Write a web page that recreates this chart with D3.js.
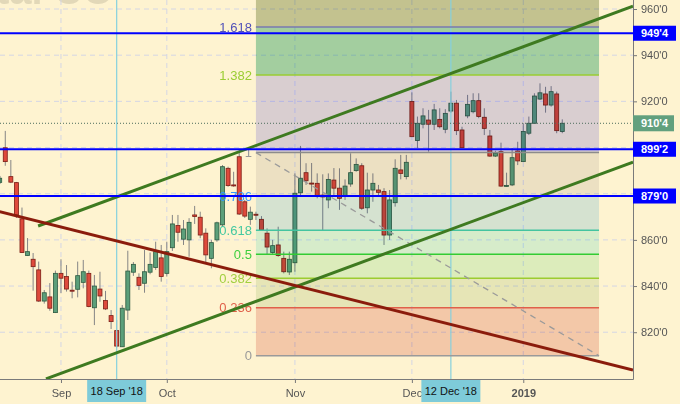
<!DOCTYPE html>
<html><head><meta charset="utf-8">
<script src="https://cdn.jsdelivr.net/npm/d3@7/dist/d3.min.js"></script>
<style>
html,body{margin:0;padding:0;background:#fef3d0;}
svg{display:block;font-family:"Liberation Sans",Arial,sans-serif;}
</style></head><body>
<svg id="c" width="680" height="404"></svg>
<script>
// ---------- data ----------
const dates = [
"2018-08-17","2018-08-20","2018-08-21","2018-08-22","2018-08-23","2018-08-24","2018-08-27","2018-08-28","2018-08-29","2018-08-30","2018-08-31",
"2018-09-04","2018-09-05","2018-09-06","2018-09-07","2018-09-10","2018-09-11","2018-09-12","2018-09-13","2018-09-14","2018-09-17","2018-09-18","2018-09-19","2018-09-20","2018-09-21","2018-09-24","2018-09-25","2018-09-26","2018-09-27","2018-09-28",
"2018-10-01","2018-10-02","2018-10-03","2018-10-04","2018-10-05","2018-10-08","2018-10-09","2018-10-10","2018-10-11","2018-10-12","2018-10-15","2018-10-16","2018-10-17","2018-10-18","2018-10-19","2018-10-22","2018-10-23","2018-10-24","2018-10-25","2018-10-26","2018-10-29","2018-10-30","2018-10-31",
"2018-11-01","2018-11-02","2018-11-05","2018-11-06","2018-11-07","2018-11-08","2018-11-09","2018-11-12","2018-11-13","2018-11-14","2018-11-15","2018-11-16","2018-11-19","2018-11-20","2018-11-21","2018-11-23","2018-11-26","2018-11-27","2018-11-28","2018-11-29","2018-11-30",
"2018-12-03","2018-12-04","2018-12-05","2018-12-06","2018-12-07","2018-12-10","2018-12-11","2018-12-12","2018-12-13","2018-12-14","2018-12-17","2018-12-18","2018-12-19","2018-12-20","2018-12-21","2018-12-24","2018-12-26","2018-12-27","2018-12-28","2018-12-31",
"2019-01-02","2019-01-03","2019-01-04","2019-01-07","2019-01-08","2019-01-09","2019-01-10","2019-01-11"];
const opens = [884.9,899.9,887.4,884.8,869.1,853.2,851.6,847.0,833.5,835.3,828.5,
845.5,844.1,838.2,838.6,841.6,845.5,830.6,838.7,833.7,827.2,820.7,813.7,829.6,846.0,843.8,841.2,846.0,848.0,852.2,
845.5,856.6,866.2,860.3,860.0,870.8,869.8,862.9,852.0,860.0,866.5,891.0,883.8,896.0,876.5,868.9,871.1,868.9,862.9,854.5,857.8,852.0,846.1,
850.1,880.4,889.1,884.6,884.5,879.4,877.3,885.9,882.4,879.1,884.2,890.0,892.1,873.9,881.6,881.6,880.9,862.1,876.1,890.3,887.4,
919.9,903.0,910.1,911.9,910.1,912.2,907.9,915.8,919.2,907.6,913.7,915.5,920.3,913.1,905.0,896.3,898.2,883.3,883.8,898.5,
893.9,906.2,910.5,921.0,923.2,918.4,923.2,906.9];
const highs = [887.7,907.2,894.6,885.1,874.0,860.8,854.3,850.6,838.3,841.3,846.7,
851.6,849.1,841.9,850.6,851.3,846.7,844.8,846.2,837.9,829.6,825.3,831.8,855.3,850.4,845.5,855.6,854.5,859.2,857.8,
859.2,870.8,870.8,868.6,869.4,874.7,872.2,865.0,860.0,867.9,892.4,891.7,889.5,898.2,877.3,874.4,872.2,870.3,865.0,860.0,865.7,854.9,854.9,
888.8,900.7,893.2,893.3,888.8,888.4,888.8,891.1,891.0,886.2,897.5,895.3,893.2,889.1,888.8,883.8,882.4,881.6,894.9,896.8,896.8,
923.9,913.4,917.0,916.3,918.9,917.0,916.6,924.2,920.6,909.0,922.8,923.5,923.5,917.0,907.6,898.6,902.1,889.1,899.7,902.5,
910.5,913.4,923.5,927.8,926.3,926.6,924.2,912.2];
const lows = [884.2,892.1,884.6,869.5,854.3,853.0,838.0,833.1,832.4,829.3,828.3,
836.9,837.6,834.7,835.1,839.0,830.8,823.1,833.2,829.6,821.4,813.3,813.6,825.3,844.4,838.3,837.1,845.1,847.0,841.9,
844.1,855.2,859.2,857.8,852.7,866.9,860.7,849.9,847.7,859.2,865.7,883.0,883.0,870.8,869.5,866.5,868.6,864.0,853.5,853.5,852.7,845.5,844.8,
846.2,878.6,883.8,880.9,878.0,863.9,873.7,878.7,873.0,877.3,883.0,889.5,873.0,871.5,876.5,879.4,857.8,860.0,874.4,886.2,886.2,
904.6,899.7,908.3,898.2,907.6,908.3,906.2,915.0,905.4,899.8,912.7,914.8,912.7,905.4,896.0,895.9,883.0,883.0,883.3,892.4,
893.9,905.4,910.2,920.6,915.1,917.7,906.2,906.2];
const closes = [886.7,893.9,885.0,870.8,854.5,854.9,848.4,833.5,837.1,830.4,845.5,
843.4,838.7,837.9,844.5,846.2,831.1,840.0,835.7,830.1,824.6,814.0,830.4,846.5,849.4,840.3,846.2,849.4,854.9,844.1,
854.9,866.9,863.3,864.7,867.6,870.1,862.1,853.5,858.8,867.4,891.7,883.5,883.5,871.2,870.3,872.0,870.8,864.3,856.9,857.5,853.2,846.2,851.6,
880.2,886.7,885.6,884.2,879.1,878.6,886.2,882.4,878.0,883.3,889.1,892.7,873.7,881.6,884.5,880.6,862.1,877.3,891.0,888.8,893.6,
904.7,910.5,913.7,910.1,916.3,909.0,914.8,919.2,907.3,899.9,918.7,920.3,913.4,908.3,896.3,897.5,883.3,883.6,895.6,894.2,
906.9,910.5,922.3,923.7,918.4,924.2,907.3,910.5];

const yTickValues = [960, 940, 920, 860, 840, 820];
const yTickLabels = ["960'0", "940'0", "920'0", "860'0", "840'0", "820'0"];
const gridValues = [960, 940, 920, 900, 880, 860, 840, 820];
const monthStarts = ["2018-09-04", "2018-10-01", "2018-11-01", "2018-12-03", "2019-01-02"];
const monthLabels = ["Sep", "Oct", "Nov", "Dec", "2019"];
const markedDates = ["2018-09-18", "2018-12-12"];
const markedLabels = ["18 Sep '18", "12 Dec '18"];
const hLevels = [949.5, 899.25, 879.0];
const hLabels = ["949'4", "899'2", "879'0"];
const lastPrice = 910.5;
const lastLabel = "910'4";
const fibLevels = [0, 0.236, 0.382, 0.5, 0.618, 0.786, 1, 1.382, 1.618];
const fibLabels = ["0", "0.236", "0.382", "0.5", "0.618", "0.786", "1", "1.382", "1.618"];
const fibLow = 809.8, fibHigh = 897.8;
const fibStartIdx = 46.0, fibEndIdx = 107.6;
const upperChannel = [[6.9, 866.0], [113.7, 961.2]];
const lowerChannel = [[8.3, 799.8], [113.7, 893.7]];
const trendLine = [[0, 872.2], [113.7, 803.6]];

// ---------- styles ----------
const fibLineColors = ["#9a9a9a", "#e0604a", "#9ccc30", "#33cc33", "#44c4a0", "#3d8fe0", "#8c8c8c", "#9acd32", "#7878b0"];
const fibTextColors = ["#9a9a9a", "#e0604a", "#a2d040", "#3fcf3f", "#44c8a0", "#3399ff", "#9a9a9a", "#9acd32", "#5050b8"];
const fibBandColors = ["#f4d2ce", "#e7f1df", "#ddf8e5", "#d7f8f8", "#d6eeff", "#edebee", "#dad9ff", "#a4d9c3", "#c4ccaf"];

// ---------- drawing ----------
const plotR = 633, plotB = 379;
const svg = d3.select("#c");
const x = d3.scaleLinear().domain([0, dates.length - 1]).range([-0.3, 562.27]);
const y = d3.scaleLinear().domain([800, 960]).range([378.4, 9]);
const idx = new Map(dates.map((d, i) => [d, i]));
const line = d3.line().x(d => x(d[0])).y(d => y(d[1]));

svg.append("rect").attr("width", 680).attr("height", 404).attr("fill", "#fef3d0");
svg.append("defs").append("clipPath").attr("id", "clip")
  .append("rect").attr("x", 0).attr("y", 0).attr("width", plotR).attr("height", plotB);
const under = svg.append("g").attr("clip-path", "url(#clip)");

// watermark (mostly cut off at top, as in the source)
under.append("text").attr("x", -4).attr("y", 4).attr("font-size", 40).attr("font-weight", "bold")
  .attr("fill", "#e2d8b8").text("tal CO");

// grid
under.selectAll("line.hg").data(gridValues).join("line").attr("class", "hg")
  .attr("x1", 0).attr("x2", plotR).attr("y1", d => y(d)).attr("y2", d => y(d))
  .attr("stroke", "#d4d6e4").attr("stroke-width", 1).attr("stroke-dasharray", "5,4");
under.selectAll("line.vg").data(monthStarts).join("line").attr("class", "vg")
  .attr("x1", d => x(idx.get(d))).attr("x2", d => x(idx.get(d))).attr("y1", 0).attr("y2", plotB)
  .attr("stroke", "#d4d6e4").attr("stroke-width", 1).attr("stroke-dasharray", "5,4");

// candles (drawn directly in root so the multiply bands can blend over them)
const candles = dates.map((d, i) => ({ i, o: opens[i], h: highs[i], l: lows[i], c: closes[i] }))
  .filter(d => x(d.i) > -3);
svg.selectAll("line.wk").data(candles).join("line").attr("class", "wk")
  .attr("x1", d => Math.max(0, x(d.i))).attr("x2", d => Math.max(0, x(d.i)))
  .attr("y1", d => y(d.h)).attr("y2", d => y(d.l))
  .attr("stroke", "#858585").attr("stroke-width", 1);
svg.selectAll("rect.bd").data(candles).join("rect").attr("class", "bd")
  .attr("x", d => Math.max(0, x(d.i) - 2)).attr("width", d => x(d.i) - 2 < 0 ? x(d.i) + 2 : 4)
  .attr("y", d => y(Math.max(d.o, d.c)))
  .attr("height", d => Math.max(1, Math.abs(y(d.o) - y(d.c))))
  .attr("fill", d => d.c >= d.o ? "#5c9f7a" : "#de4a3c")
  .attr("stroke", d => d.c >= d.o ? "#2d5a41" : "#7c1d15").attr("stroke-width", 0.8);

// fib bands (multiply overlay, in root stacking context)
const fibPrice = f => fibLow + (fibHigh - fibLow) * f;
const fx0 = x(fibStartIdx), fx1 = x(fibEndIdx);
const bands = fibLevels.map((f, k) => ({
  top: k < fibLevels.length - 1 ? y(fibPrice(fibLevels[k + 1])) : 0,
  bot: y(fibPrice(f)), color: fibBandColors[k]
}));
svg.selectAll("rect.band").data(bands).join("rect").attr("class", "band")
  .attr("x", fx0).attr("width", fx1 - fx0)
  .attr("y", d => d.top).attr("height", d => d.bot - d.top)
  .attr("fill", d => d.color).style("mix-blend-mode", "multiply");

const plot = svg.append("g").attr("clip-path", "url(#clip)");

// marked vertical lines
plot.selectAll("line.mk").data(markedDates).join("line").attr("class", "mk")
  .attr("x1", d => x(idx.get(d))).attr("x2", d => x(idx.get(d))).attr("y1", 0).attr("y2", plotB)
  .attr("stroke", "#86d0de").attr("stroke-width", 1.2);

// fib level lines
plot.selectAll("line.fl").data(fibLevels).join("line").attr("class", "fl")
  .attr("x1", fx0).attr("x2", fx1).attr("y1", d => y(fibPrice(d))).attr("y2", d => y(fibPrice(d)))
  .attr("stroke", (d, k) => fibLineColors[k]).attr("stroke-width", 1.5);
plot.selectAll("text.ft").data(fibLevels).join("text").attr("class", "ft")
  .attr("x", fx0 - 4).attr("y", d => y(fibPrice(d))).attr("dy", "0.35em")
  .attr("text-anchor", "end").attr("font-size", 13)
  .attr("fill", (d, k) => fibTextColors[k]).text((d, k) => fibLabels[k]);

// fib diagonal
plot.append("path").attr("d", line([[fibStartIdx, fibHigh], [fibEndIdx, fibLow]]))
  .attr("fill", "none").attr("stroke", "#9a9a9a").attr("stroke-width", 1.3).attr("stroke-dasharray", "6,5");

// channel and trend lines
plot.append("path").attr("d", line(upperChannel)).attr("fill", "none").attr("stroke", "#3e7a20").attr("stroke-width", 3);
plot.append("path").attr("d", line(lowerChannel)).attr("fill", "none").attr("stroke", "#3e7a20").attr("stroke-width", 3);
plot.append("path").attr("d", line(trendLine)).attr("fill", "none").attr("stroke", "#8b1c0c").attr("stroke-width", 3);

// horizontal blue levels
plot.selectAll("line.hl").data(hLevels).join("line").attr("class", "hl")
  .attr("x1", 0).attr("x2", plotR).attr("y1", d => y(d)).attr("y2", d => y(d))
  .attr("stroke", "#0000ff").attr("stroke-width", 2);

// last price dotted line
plot.append("line").attr("x1", 0).attr("x2", plotR).attr("y1", y(lastPrice)).attr("y2", y(lastPrice))
  .attr("stroke", "#4d6d5c").attr("stroke-width", 1).attr("stroke-dasharray", "1,2");

// axes
const yAxis = d3.axisRight(y).tickValues(yTickValues).tickFormat((d, i) => yTickLabels[i]).tickSize(4).tickPadding(4);
const ya = svg.append("g").attr("transform", `translate(${plotR},0)`).call(yAxis);
ya.select(".domain").remove();
ya.selectAll("line").attr("stroke", "#777");
ya.selectAll("text").attr("font-size", 11).attr("fill", "#555").attr("font-family", "Liberation Sans, Arial, sans-serif");

const xAxis = d3.axisBottom(x).tickValues(monthStarts.map(d => idx.get(d)))
  .tickFormat((d, i) => monthLabels[i]).tickSize(4).tickPadding(6);
const xa = svg.append("g").attr("transform", `translate(0,${plotB})`).call(xAxis);
xa.select(".domain").remove();
xa.selectAll("line").attr("stroke", "#777");
xa.selectAll("text").attr("font-size", 11).attr("fill", "#555").attr("font-family", "Liberation Sans, Arial, sans-serif")
  .attr("font-weight", (d, i) => monthLabels[i] === "2019" ? "bold" : "normal");

svg.append("line").attr("x1", plotR + 0.5).attr("x2", plotR + 0.5).attr("y1", 0).attr("y2", plotB + 0.5)
  .attr("stroke", "#7a7a7a").attr("stroke-width", 1);
svg.append("line").attr("x1", 0).attr("x2", plotR + 0.5).attr("y1", plotB + 0.5).attr("y2", plotB + 0.5)
  .attr("stroke", "#7a7a7a").attr("stroke-width", 1);

// marked date boxes
const mg = svg.selectAll("g.md").data(markedDates).join("g").attr("class", "md")
  .attr("transform", d => `translate(${x(idx.get(d))},${plotB + 1})`);
mg.append("rect").attr("x", -29.5).attr("width", 59).attr("y", 0).attr("height", 22).attr("fill", "#7ecbd9");
mg.append("text").attr("x", 0).attr("y", 11).attr("dy", "0.35em").attr("text-anchor", "middle")
  .attr("font-size", 11).attr("fill", "#111").text((d, i) => markedLabels[i]);

// price label boxes
const pg = svg.selectAll("g.pl").data(hLevels).join("g").attr("class", "pl")
  .attr("transform", d => `translate(${plotR},${y(d)})`);
pg.append("rect").attr("x", 0).attr("y", -7.5).attr("width", 43).attr("height", 15).attr("fill", "#0000ff");
pg.append("text").attr("x", 8).attr("y", 0).attr("dy", "0.35em").attr("font-size", 11).attr("font-weight", "bold")
  .attr("fill", "#fff").text((d, i) => hLabels[i]);
const lp = svg.append("g").attr("transform", `translate(${plotR},${y(lastPrice)})`);
lp.append("rect").attr("x", 0).attr("y", -8).attr("width", 41).attr("height", 16).attr("fill", "#62a07e");
lp.append("text").attr("x", 8).attr("y", 0).attr("dy", "0.35em").attr("font-size", 11).attr("font-weight", "bold")
  .attr("fill", "#fff").text(lastLabel);
</script>
</body></html>
